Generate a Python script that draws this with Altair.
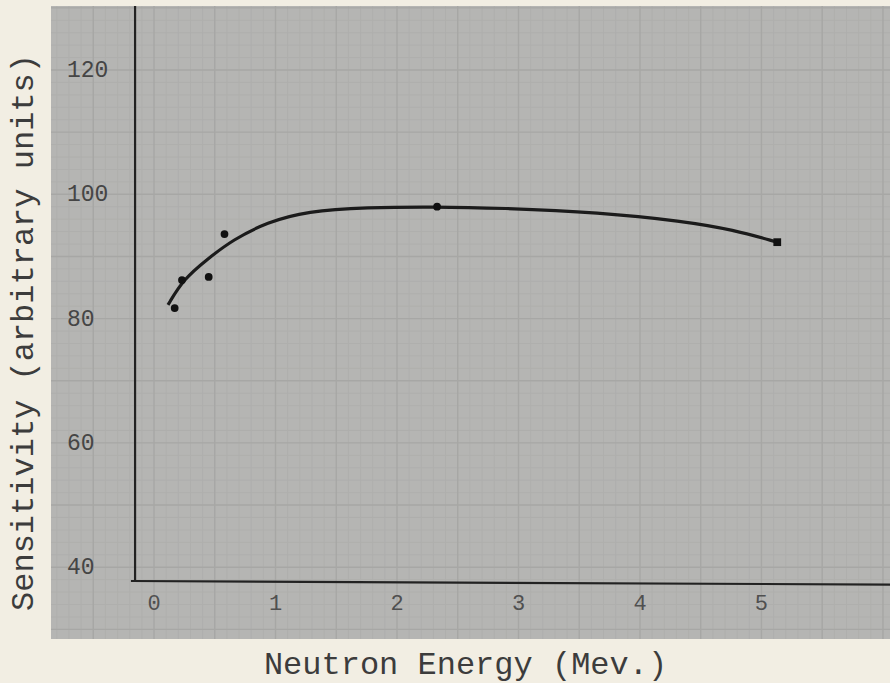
import altair as alt
import pandas as pd
import numpy as np

# ---- data ----
pt_energy = [0.17, 0.23, 0.45, 0.58, 2.33]
pt_sens = [81.7, 86.2, 86.7, 93.6, 98.0]
end_energy = [5.13]
end_sens = [92.3]
curve_energy = [0.115, 0.24, 0.44, 0.65, 0.93, 1.26, 1.75, 2.30, 2.85, 3.67, 4.35, 4.77, 5.13]
curve_sens = [82.2, 86.3, 89.6, 92.7, 95.5, 97.3, 97.9, 98.0, 97.8, 97.1, 95.7, 94.3, 92.3]
x_ticks = [0, 1, 2, 3, 4, 5]
y_ticks = [40, 60, 80, 100, 120]

X_DOM = [-0.848, 6.058]
Y_DOM = [28.45, 130.3]
FONT = "Liberation Mono"
INK = "#1b1b1b"

xs = alt.Scale(domain=X_DOM, nice=False, zero=False)
ys = alt.Scale(domain=Y_DOM, nice=False, zero=False)

x_axis = alt.Axis(title="Neutron Energy (Mev.)", domain=False, ticks=False, labels=False,
                  grid=False, titleFont=FONT, titleFontSize=32, titleFontWeight="normal",
                  titleColor="#3c3c3c", titleX=414, titleY=24, titleBaseline="middle",
                  titleAlign="center")
y_axis = alt.Axis(title="Sensitivity (arbitrary units)", domain=False, ticks=False, labels=False,
                  grid=False, titleFont=FONT, titleFontSize=32, titleFontWeight="normal",
                  titleColor="#3c3c3c", titleX=-29, titleY=326, titleAngle=270,
                  titleBaseline="middle", titleAlign="center")

# graph-paper grid
gx = np.round(np.arange(-0.8, 6.05, 0.1), 2)
gy = np.arange(30, 131, 2)
gx_df = pd.DataFrame({"x": gx, "major": [abs(v * 2 - round(v * 2)) < 1e-6 for v in gx]})
gy_df = pd.DataFrame({"y": gy, "major": [v % 10 == 0 for v in gy]})

base_x = alt.X("x:Q", scale=xs, axis=x_axis)
base_y = alt.Y("y:Q", scale=ys, axis=y_axis)

grid_v_minor = alt.Chart(gx_df[~gx_df.major]).mark_rule(color="#afafad", strokeWidth=1).encode(x=base_x)
grid_v_major = alt.Chart(gx_df[gx_df.major]).mark_rule(color="#a7a7a5", strokeWidth=1.4).encode(x=base_x)
grid_h_minor = alt.Chart(gy_df[~gy_df.major]).mark_rule(color="#afafad", strokeWidth=1).encode(y=base_y)
grid_h_major = alt.Chart(gy_df[gy_df.major]).mark_rule(color="#a7a7a5", strokeWidth=1.4).encode(y=base_y)

# hand drawn axes lines
axes_df = pd.DataFrame({"x": [-0.156, -0.19], "x2": [-0.156, 6.058],
                        "y": [130.3, 37.78], "y2": [37.78, 37.2]})
axes = alt.Chart(axes_df).mark_rule(color="#222222", strokeWidth=2.2).encode(
    x=base_x, x2="x2:Q", y=base_y, y2="y2:Q")

curve_df = pd.DataFrame({"x": curve_energy, "y": curve_sens})
curve = alt.Chart(curve_df).mark_line(interpolate="basis", color=INK, strokeWidth=3.2).encode(
    x=base_x, y=base_y)

pts = alt.Chart(pd.DataFrame({"x": pt_energy, "y": pt_sens})).mark_circle(
    size=60, color="#111111", opacity=1).encode(x=base_x, y=base_y)
endpt = alt.Chart(pd.DataFrame({"x": end_energy, "y": end_sens})).mark_square(
    size=60, color="#111111", opacity=1).encode(x=base_x, y=base_y)

ylab = alt.Chart(pd.DataFrame({"y": y_ticks, "t": [str(v) for v in y_ticks]})).mark_text(
    font=FONT, fontSize=23, color="#454545", align="left", baseline="middle").encode(
    y=base_y, x=alt.value(16), text="t:N")
xlab = alt.Chart(pd.DataFrame({"x": x_ticks, "t": [str(v) for v in x_ticks]})).mark_text(
    font=FONT, fontSize=22, color="#505050", align="center", baseline="middle").encode(
    x=base_x, y=alt.value(597), text="t:N")

chart = alt.layer(grid_v_minor, grid_h_minor, grid_v_major, grid_h_major, axes, curve, pts, endpt,
                  ylab, xlab).properties(
    width=839, height=633,
    autosize=alt.AutoSizeParams(type="none"),
    padding={"left": 51, "top": 6, "right": 0, "bottom": 44},
    background="#f2eee3",
).configure_view(fill="#b5b5b3", stroke=None)

chart.save("out.html", embed_options={"renderer": "svg", "actions": False})
